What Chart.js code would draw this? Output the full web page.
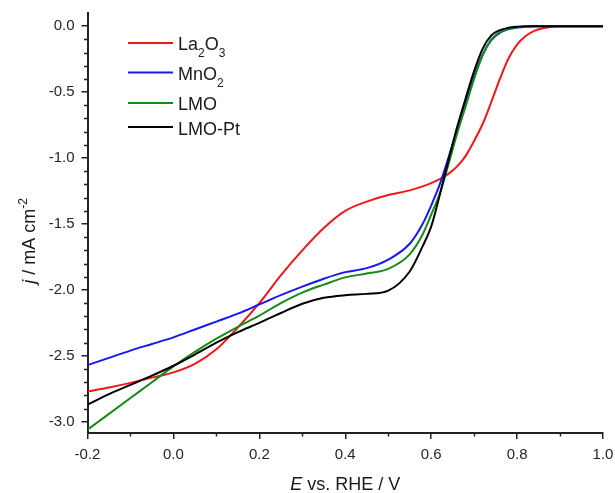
<!DOCTYPE html>
<html>
<head>
<meta charset="utf-8">
<script src="https://cdn.jsdelivr.net/npm/chart.js@4.4.1/dist/chart.umd.min.js"></script>
<style>
  body { margin: 0; background: #fff; }
  #wrap { width: 615px; height: 493px; position: relative; }
</style>
</head>
<body>
<div id="wrap"><canvas id="lsvChart"></canvas></div>
<script>
// potential E vs. RHE (V)
var potential = [-0.2, -0.15, -0.1, -0.05, 0.0, 0.05, 0.1, 0.15, 0.2, 0.25, 0.3, 0.35, 0.4, 0.45, 0.5,
  0.55, 0.58, 0.6, 0.62, 0.64, 0.66, 0.68, 0.7, 0.72, 0.74, 0.76, 0.78, 0.8, 0.82, 0.84, 0.86, 0.9, 0.95, 1.0];

// current density j (mA cm-2)
var la2o3 = [-2.77, -2.74, -2.705, -2.665, -2.625, -2.56, -2.45, -2.285, -2.10, -1.89, -1.70, -1.53, -1.40, -1.33, -1.28,
  -1.245, -1.215, -1.19, -1.16, -1.12, -1.065, -0.985, -0.87, -0.74, -0.575, -0.40, -0.245, -0.14, -0.075, -0.036, -0.016, 0, 0, 0];
var mno2 = [-2.57, -2.515, -2.46, -2.41, -2.36, -2.30, -2.24, -2.18, -2.11, -2.04, -1.975, -1.915, -1.865, -1.835, -1.77,
  -1.65, -1.50, -1.36, -1.20, -1.00, -0.79, -0.58, -0.38, -0.215, -0.105, -0.05, -0.022, -0.01, -0.004, -0.001, 0, 0, 0, 0];
var lmo = [-3.06, -2.94, -2.82, -2.70, -2.58, -2.47, -2.37, -2.28, -2.195, -2.10, -2.02, -1.96, -1.905, -1.875, -1.84,
  -1.73, -1.58, -1.43, -1.27, -1.05, -0.82, -0.61, -0.40, -0.22, -0.10, -0.045, -0.02, -0.008, -0.002, 0, 0, 0, 0, 0];
var lmoPt = [-2.87, -2.79, -2.72, -2.65, -2.575, -2.49, -2.40, -2.32, -2.25, -2.175, -2.105, -2.06, -2.04, -2.03, -2.005,
  -1.86, -1.67, -1.52, -1.28, -1.02, -0.77, -0.55, -0.34, -0.17, -0.07, -0.03, -0.012, -0.004, 0, 0, 0, 0, 0, 0];

var seriesNames = ['La2O3', 'MnO2', 'LMO', 'LMO-Pt'];
var seriesColors = ['#f01818', '#1818f0', '#178a17', '#000000'];

// tick positions (every 0.1, labels only on majors)
var xTickValues = [-0.2, -0.1, 0.0, 0.1, 0.2, 0.3, 0.4, 0.5, 0.6, 0.7, 0.8, 0.9, 1.0];
var xTickLabels = ['-0.2', '0.0', '0.2', '0.4', '0.6', '0.8', '1.0'];
var yTickValues = [0.0, -0.1, -0.2, -0.3, -0.4, -0.5, -0.6, -0.7, -0.8, -0.9, -1.0, -1.1, -1.2, -1.3, -1.4, -1.5,
  -1.6, -1.7, -1.8, -1.9, -2.0, -2.1, -2.2, -2.3, -2.4, -2.5, -2.6, -2.7, -2.8, -2.9, -3.0];
var yTickLabels = ['0.0', '-0.5', '-1.0', '-1.5', '-2.0', '-2.5', '-3.0'];

function toPoints(ys) {
    return potential.map(function (x, i) { return { x: x, y: ys[i] }; });
}

function onStep(v, step) {
    var r = v / step;
    return Math.abs(r - Math.round(r)) < 1e-6;
}

function fmt(v) {
    var s = (Math.round(v * 10) / 10).toFixed(1);
    if (s === '-0.0') s = '0.0';
    return s;
}

var allSeries = [la2o3, mno2, lmo, lmoPt];
var datasets = allSeries.map(function (ys, i) {
    return {
        label: seriesNames[i],
        data: toPoints(ys),
        borderColor: seriesColors[i],
        borderWidth: 2,
        pointRadius: 0,
        fill: false,
        cubicInterpolationMode: 'monotone',
        order: 3 - i
    };
});

// draw a run of text pieces (normal / italic / sub / sup) starting at x, baseline y
function drawRich(ctx, parts, x, y) {
    parts.forEach(function (p) {
        ctx.font = p.font;
        ctx.fillText(p.t, x, y + (p.dy || 0));
        x += ctx.measureText(p.t).width;
    });
}
function richWidth(ctx, parts) {
    var w = 0;
    parts.forEach(function (p) { ctx.font = p.font; w += ctx.measureText(p.t).width; });
    return w;
}

var FONT = '"Liberation Sans", Arial, sans-serif';
var big = '18px ' + FONT;
var bigIt = 'italic 18px ' + FONT;
var small = '12px ' + FONT;

var legendParts = [
    [{ t: 'La', font: big }, { t: '2', font: small, dy: 7 }, { t: 'O', font: big }, { t: '3', font: small, dy: 7 }],
    [{ t: 'MnO', font: big }, { t: '2', font: small, dy: 7 }],
    [{ t: 'LMO', font: big }],
    [{ t: 'LMO-Pt', font: big }]
];
var legendLineY = [43, 72.5, 103, 127];
var legendBaseY = [49.5, 79.5, 110, 134.5];

var extrasPlugin = {
    id: 'extras',
    afterDraw: function (chart) {
        var ctx = chart.ctx;
        var xs = chart.scales.x, ys = chart.scales.y;
        ctx.save();

        // minor ticks
        ctx.strokeStyle = '#222';
        ctx.lineWidth = 1.5;
        ctx.beginPath();
        xs.ticks.forEach(function (t) {
            if (!onStep(t.value, 0.2)) {
                var px = Math.round(xs.getPixelForValue(t.value)) + 0.5;
                ctx.moveTo(px, xs.top);
                ctx.lineTo(px, xs.top + 3.5);
            }
        });
        ys.ticks.forEach(function (t) {
            if (!onStep(t.value, 0.5)) {
                var py = Math.round(ys.getPixelForValue(t.value)) + 0.5;
                ctx.moveTo(ys.right, py);
                ctx.lineTo(ys.right - 3.5, py);
            }
        });
        ctx.stroke();

        // legend
        ctx.textBaseline = 'alphabetic';
        ctx.fillStyle = '#1a1a1a';
        legendParts.forEach(function (parts, i) {
            ctx.strokeStyle = seriesColors[i];
            ctx.lineWidth = 2;
            ctx.beginPath();
            ctx.moveTo(128, legendLineY[i]);
            ctx.lineTo(173, legendLineY[i]);
            ctx.stroke();
            drawRich(ctx, parts, 178, legendBaseY[i]);
        });

        // x title
        var xt = [{ t: 'E', font: bigIt }, { t: ' vs. RHE / V', font: big }];
        var cx = (chart.chartArea.left + chart.chartArea.right) / 2;
        drawRich(ctx, xt, cx - richWidth(ctx, xt) / 2, 490);

        // y title
        var yt = [{ t: 'j', font: bigIt }, { t: ' / mA cm', font: big }, { t: '-2', font: small, dy: -8 }];
        ctx.translate(34.5, 241);
        ctx.rotate(-Math.PI / 2);
        drawRich(ctx, yt, -richWidth(ctx, yt) / 2, 0);

        ctx.restore();
    }
};

const ctx2 = document.getElementById('lsvChart');
const lsvChart = new Chart(ctx2, {
    type: 'line',
    data: { datasets: datasets },
    plugins: [extrasPlugin],
    options: {
        responsive: true,
        maintainAspectRatio: false,
        animation: false,
        layout: { padding: { top: 13, right: 12, left: 0, bottom: 0 } },
        plugins: {
            legend: { display: false },
            tooltip: { enabled: false }
        },
        scales: {
            x: {
                type: 'linear',
                min: -0.2,
                max: 1.0,
                afterBuildTicks: function (scale) {
                    scale.ticks = xTickValues.map(function (v) { return { value: v }; });
                },
                afterFit: function (scale) {
                    scale.height = 60;
                    scale.paddingLeft = 0;
                    scale.paddingRight = 0;
                },
                border: { display: true, color: '#222', width: 2 },
                grid: {
                    drawOnChartArea: false,
                    drawTicks: true,
                    tickLength: 6,
                    lineWidth: 1.5,
                    color: function (c) { return c.tick && onStep(c.tick.value, 0.2) ? '#222' : 'rgba(0,0,0,0)'; }
                },
                ticks: {
                    autoSkip: false,
                    maxRotation: 0,
                    padding: 7,
                    color: '#262626',
                    font: { family: FONT, size: 15 },
                    callback: function (v) {
                        var s = fmt(v);
                        return (onStep(v, 0.2) && xTickLabels.indexOf(s) >= 0) ? s : '';
                    }
                }
            },
            y: {
                type: 'linear',
                min: -3.085,
                max: 0.1,
                afterBuildTicks: function (scale) {
                    scale.ticks = yTickValues.map(function (v) { return { value: v }; });
                },
                afterFit: function (scale) {
                    scale.width = 87.5;
                    scale.paddingTop = 0;
                    scale.paddingBottom = 0;
                },
                border: { display: true, color: '#222', width: 2 },
                grid: {
                    drawOnChartArea: false,
                    drawTicks: true,
                    tickLength: 6,
                    lineWidth: 1.5,
                    color: function (c) { return c.tick && onStep(c.tick.value, 0.5) ? '#222' : 'rgba(0,0,0,0)'; }
                },
                ticks: {
                    autoSkip: false,
                    padding: 7,
                    color: '#262626',
                    font: { family: FONT, size: 15 },
                    callback: function (v) {
                        var s = fmt(v);
                        return (onStep(v, 0.5) && yTickLabels.indexOf(s) >= 0) ? s : '';
                    }
                }
            }
        }
    }
});
</script>
</body>
</html>
